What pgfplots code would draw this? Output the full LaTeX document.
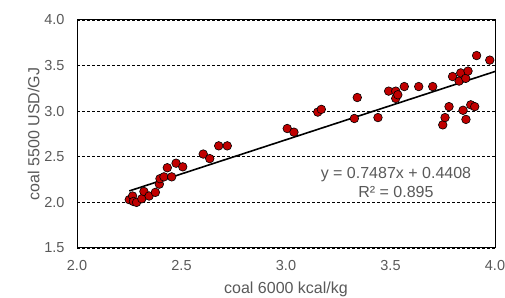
\documentclass[border=0pt]{standalone}
\usepackage{fontspec}
\setmainfont{Liberation Sans}
\usepackage{pgfplots}
\pgfplotsset{compat=1.18}
\definecolor{txtgray}{HTML}{595959}
\definecolor{ptred}{HTML}{C00000}
\begin{document}
\begin{tikzpicture}
\begin{axis}[
  name=ax,
  scale only axis,
  width=418pt, height=228pt,
  xmin=2, xmax=4, ymin=1.5, ymax=4,
  xtick={2,2.5,3,3.5,4},
  ytick={1.5,2,2.5,3,3.5,4},
  major tick length=0pt,
  /pgf/number format/assume math mode=true,
  /pgf/number format/fixed,
  /pgf/number format/fixed zerofill,
  /pgf/number format/precision=1,
  tick label style={font=\fontsize{14.5pt}{16pt}\selectfont, text=txtgray},
  xticklabel style={yshift=-9pt},
  yticklabel style={xshift=-9pt},
  label style={font=\fontsize{16pt}{18pt}\selectfont, text=txtgray},
  xlabel={coal 6000 kcal/kg},
  ylabel={coal 5500 USD/GJ},
  xlabel style={yshift=-4pt},
  ylabel style={yshift=-2pt},
  axis line style={black, line width=1pt},
  ymajorgrids,
  grid style={black, line width=0.8pt, dash pattern=on 3pt off 2pt},
  clip=false,
]
\addplot[only marks, mark=*, mark size=4.3pt, mark options={fill=ptred, draw=black, line width=0.6pt}] coordinates {
(2.250,2.03) (2.266,2.07) (2.270,2.01) (2.285,2.00) (2.310,2.04) (2.320,2.12)
(2.345,2.07) (2.375,2.11) (2.394,2.20) (2.397,2.26) (2.416,2.28) (2.432,2.38)
(2.453,2.28) (2.474,2.43) (2.506,2.39) (2.604,2.53) (2.635,2.48) (2.678,2.62)
(2.719,2.62) (3.006,2.81) (3.038,2.77) (3.152,2.99) (3.169,3.02) (3.327,2.92)
(3.341,3.15) (3.440,2.93) (3.491,3.22) (3.525,3.22) (3.525,3.14) (3.535,3.18)
(3.566,3.27) (3.635,3.27) (3.702,3.27) (3.750,2.85) (3.761,2.93) (3.780,3.05)
(3.797,3.38) (3.828,3.33) (3.836,3.42) (3.847,3.01) (3.860,3.36) (3.861,2.91)
(3.871,3.44) (3.884,3.07) (3.903,3.05) (3.912,3.61) (3.975,3.56)
};
\addplot[black, line width=1.6pt, no marks] coordinates {(2.25,2.1254) (4.0,3.4356)};
\node[align=center, text=txtgray, font=\fontsize{16pt}{19pt}\selectfont] at (axis cs:3.526,2.218) {y = 0.7487x + 0.4408\\R² = 0.895};
\end{axis}
\pgfresetboundingbox
\path ([shift={(-77pt,-50pt)}]ax.south west) rectangle ([shift={(10pt,20pt)}]ax.north east);
\end{tikzpicture}
\end{document}
